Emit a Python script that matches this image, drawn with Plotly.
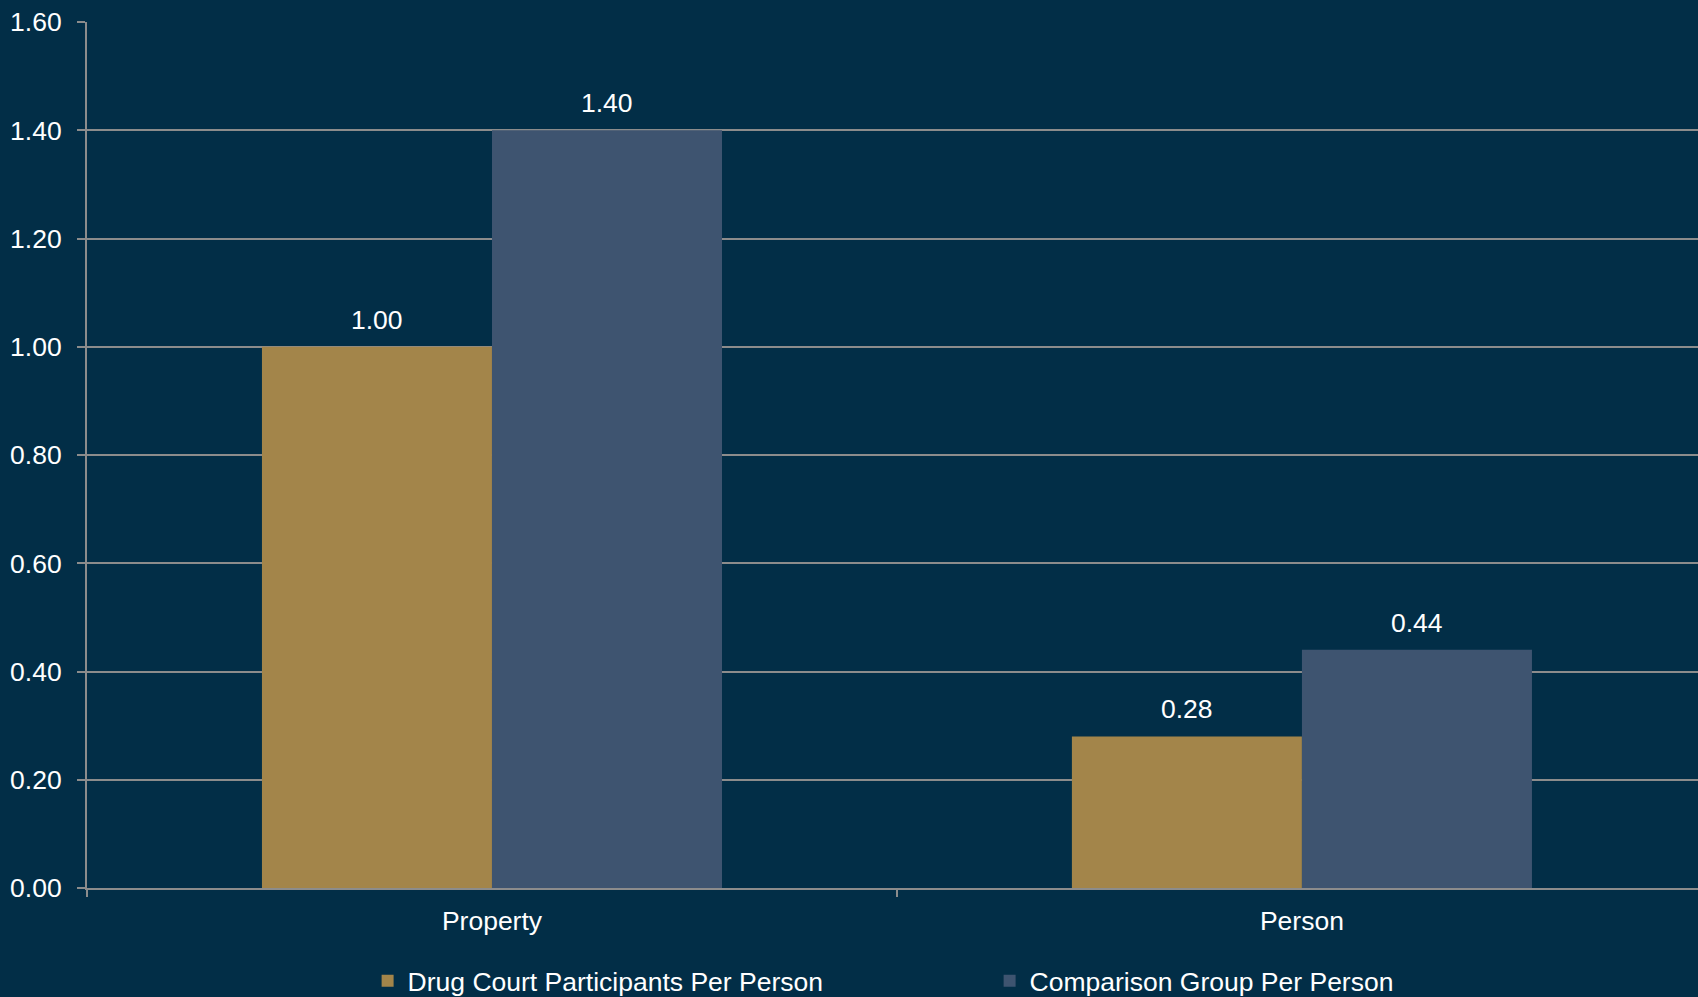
import plotly.graph_objects as go

categories = ["Property", "Person"]
drug_court = [1.00, 0.28]
comparison = [1.40, 0.44]
series_names = ["Drug Court Participants Per Person", "Comparison Group Per Person"]
y_ticks = [0.0, 0.2, 0.4, 0.6, 0.8, 1.0, 1.2, 1.4, 1.6]

BG = "#022E47"
GOLD = "#A3854A"
SLATE = "#3E5470"
GRID = "#8C8C8C"
FONT = "Liberation Sans, Arial, sans-serif"
FS = 26.5
BARGAP = 0.432
BW = (1 - BARGAP) / 2

fig = go.Figure()
fig.add_trace(go.Bar(x=categories, y=drug_court, name=series_names[0], marker_color=GOLD,
                     marker_line_width=0))
fig.add_trace(go.Bar(x=categories, y=comparison, name=series_names[1], marker_color=SLATE,
                     marker_line_width=0))

for i, (a, b) in enumerate(zip(drug_court, comparison)):
    for off, v in ((-BW / 2, a), (BW / 2, b)):
        fig.add_annotation(x=i + off, y=v, text=f"{v:.2f}", showarrow=False,
                           yshift=27, yanchor="middle", xanchor="center",
                           font=dict(family=FONT, size=FS, color="white"))

fig.update_layout(
    width=1698, height=997,
    paper_bgcolor=BG, plot_bgcolor=BG,
    margin=dict(l=87, r=0, t=22, b=109),
    barmode="group", bargap=BARGAP, bargroupgap=0,
    font=dict(family=FONT, size=FS, color="white"),
    showlegend=True,
    legend=dict(orientation="h", xref="container", yref="container",
                x=0.2165, xanchor="left", y=0.016, yanchor="middle",
                font=dict(family=FONT, size=FS, color="white"),
                entrywidth=577, entrywidthmode="pixels",
                bgcolor="rgba(0,0,0,0)"),
    xaxis=dict(type="category", range=[-0.5, 1.489], showgrid=False,
               showline=True, linecolor=GRID, linewidth=2,
               ticks="outside", tickson="boundaries", ticklen=7, tickcolor=GRID, tickwidth=2,
               ticklabelstandoff=8,
               tickfont=dict(family=FONT, size=FS, color="white"), zeroline=False),
    yaxis=dict(range=[0, 1.6], tickvals=y_ticks, tickformat=".2f",
               showgrid=True, gridcolor=GRID, gridwidth=2,
               showline=True, linecolor=GRID, linewidth=2,
               ticks="outside", ticklen=8, tickcolor=GRID, tickwidth=2,
               ticklabelstandoff=10,
               tickfont=dict(family=FONT, size=FS, color="white"), zeroline=False),
)

fig.write_html("out.html", config={"displayModeBar": False},
               post_script="document.body.style.margin='0';document.body.style.background='" + BG + "';")
